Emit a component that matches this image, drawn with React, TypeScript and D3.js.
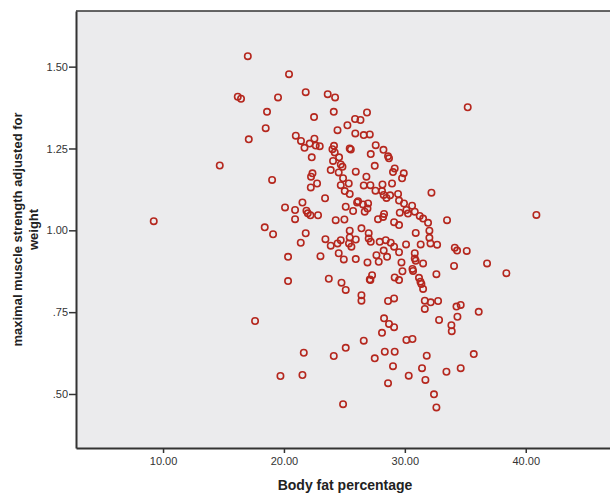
import { useEffect, useRef } from 'react';
import * as d3 from 'd3';

// body fat percentage (x) and maximal muscle strength adjusted for weight (y)
const bodyFat = [
  9.23, 14.69, 17.01, 16.18, 16.45, 20.42, 19.51, 21.80, 23.62, 24.23,
  24.12, 18.60, 22.49, 18.49, 17.09, 24.43, 25.25, 20.98, 21.41, 21.70,
  22.13, 22.52, 22.63, 22.96, 22.30, 19.02, 22.36, 22.24, 22.74, 22.22,
  23.40, 21.53, 20.09, 20.92, 21.86, 21.97, 22.19, 22.82, 20.92, 24.28,
  25.00, 18.41, 25.11, 25.72, 26.87, 25.88, 26.33, 25.90, 26.60, 27.10,
  27.59, 28.23, 27.18, 28.61, 28.69, 27.51, 29.16, 29.02, 29.91, 29.77,
  25.94, 26.82, 26.60, 27.15, 27.57, 28.15, 28.94, 32.20, 28.11, 28.25,
  28.48, 28.78, 29.44, 29.52, 29.93, 30.60, 30.13, 30.82, 26.13, 26.54,
  26.96, 26.91, 26.68, 28.28, 29.58, 24.14, 24.01, 24.20, 25.44, 25.53,
  24.06, 24.56, 24.70, 24.84, 23.87, 24.53, 24.89, 25.36, 24.70, 25.03,
  25.44, 26.05, 19.10, 21.80, 21.39, 23.43, 23.87, 24.43, 24.70, 25.44,
  25.44, 25.38, 25.58, 25.94, 20.34, 23.02, 24.53, 24.95, 25.94, 20.34,
  23.71, 24.76, 25.11, 27.78, 28.20, 30.26, 31.23, 31.51, 31.92, 29.11,
  29.52, 33.49, 40.88, 26.41, 27.01, 27.01, 27.18, 27.92, 28.42, 28.83,
  29.11, 30.90, 32.03, 32.03, 32.12, 32.67, 31.31, 30.10, 26.91, 27.65,
  27.84, 28.25, 28.53, 29.52, 30.82, 30.82, 30.90, 31.51, 29.72, 34.13,
  34.32, 35.12, 34.07, 36.80, 38.40, 32.61, 29.80, 29.16, 29.52, 30.63,
  30.68, 27.29, 27.10, 27.15, 31.17, 31.29, 31.37, 31.51, 26.41, 26.41,
  28.61, 29.11, 31.65, 31.65, 32.14, 32.75, 34.27, 34.62, 36.11, 34.35,
  32.83, 33.85, 28.28, 28.69, 29.11, 28.11, 17.61, 21.64, 24.12, 25.11,
  26.60, 27.51, 28.34, 29.16, 30.13, 30.63, 31.81, 29.02, 19.71, 21.53,
  30.32, 31.42, 31.70, 28.61, 32.41, 32.61, 24.89, 33.44, 33.88, 35.70,
  34.62, 35.20,
];

const strength = [
  1.028, 1.198, 1.532, 1.408, 1.402, 1.477, 1.406, 1.422, 1.416, 1.406,
  1.362, 1.362, 1.346, 1.312, 1.278, 1.306, 1.321, 1.289, 1.273, 1.252,
  1.265, 1.280, 1.259, 1.257, 1.223, 1.154, 1.174, 1.164, 1.143, 1.131,
  1.098, 1.085, 1.070, 1.062, 1.060, 1.052, 1.046, 1.046, 1.034, 1.031,
  1.033, 1.009, 1.072, 1.059, 1.360, 1.340, 1.337, 1.296, 1.291, 1.293,
  1.260, 1.246, 1.233, 1.226, 1.220, 1.197, 1.189, 1.178, 1.174, 1.159,
  1.179, 1.164, 1.137, 1.138, 1.121, 1.140, 1.143, 1.115, 1.120, 1.108,
  1.099, 1.107, 1.111, 1.091, 1.082, 1.075, 1.062, 1.057, 1.089, 1.079,
  1.082, 1.067, 1.057, 1.050, 1.054, 1.258, 1.248, 1.238, 1.250, 1.247,
  1.212, 1.223, 1.201, 1.194, 1.184, 1.177, 1.159, 1.143, 1.138, 1.120,
  1.111, 1.085, 0.988, 0.991, 0.962, 0.973, 0.953, 0.960, 0.970, 0.999,
  0.978, 0.960, 0.950, 0.972, 0.919, 0.921, 0.930, 0.911, 0.912, 0.845,
  0.852, 0.840, 0.818, 1.034, 1.041, 1.051, 1.044, 1.036, 1.023, 1.025,
  1.016, 1.031, 1.047, 1.006, 0.991, 0.975, 0.965, 0.965, 0.970, 0.962,
  0.950, 0.992, 0.999, 0.977, 0.960, 0.956, 0.957, 0.957, 0.902, 0.924,
  0.904, 0.938, 0.919, 0.933, 0.930, 0.914, 0.907, 0.899, 0.902, 0.947,
  0.938, 0.937, 0.891, 0.899, 0.869, 0.866, 0.875, 0.856, 0.848, 0.882,
  0.876, 0.863, 0.850, 0.848, 0.855, 0.843, 0.836, 0.821, 0.802, 0.785,
  0.784, 0.792, 0.785, 0.760, 0.780, 0.784, 0.767, 0.772, 0.751, 0.736,
  0.726, 0.710, 0.731, 0.714, 0.704, 0.687, 0.723, 0.626, 0.616, 0.641,
  0.663, 0.609, 0.629, 0.629, 0.665, 0.668, 0.617, 0.585, 0.555, 0.558,
  0.556, 0.579, 0.543, 0.533, 0.499, 0.459, 0.469, 0.568, 0.692, 0.622,
  0.579, 1.376,
];

const xTicks = [10, 20, 30, 40];
const yTicks = [0.5, 0.75, 1.0, 1.25, 1.5];

const xTitle = 'Body fat percentage';
const yTitleLines = ['maximal muscle strength adjusted for', 'weight'];

const App = () => {
  const graphRef = useRef<SVGSVGElement | null>(null);

  useEffect(() => {
    const width = 610;
    const height = 497;
    const margin = { top: 11, right: -4, bottom: 49, left: 76 };
    const innerW = width - margin.left - margin.right;
    const innerH = height - margin.top - margin.bottom;
    const font = `'Liberation Sans', Arial, sans-serif`;

    const svg = d3.select(graphRef.current);
    svg.selectAll('*').remove();

    const x = d3.scaleLinear().domain([2.8, 47.3]).range([0, innerW]);
    const y = d3.scaleLinear().domain([0.335, 1.67]).range([innerH, 0]);

    const g = svg.append('g').attr('transform', `translate(${margin.left},${margin.top})`);

    g.append('rect')
      .attr('width', innerW)
      .attr('height', innerH)
      .attr('fill', '#EBEBED');

    const pts = bodyFat.map((v, i) => ({ fat: v, str: strength[i] }));

    g.selectAll('.pt')
      .data(pts)
      .enter()
      .append('circle')
      .attr('class', 'pt')
      .attr('cx', d => x(d.fat))
      .attr('cy', d => y(d.str))
      .attr('r', 3.2)
      .attr('fill', 'none')
      .attr('stroke', '#B5271E')
      .attr('stroke-width', 1.6);

    // frame
    g.append('line').attr('x1', 0).attr('x2', innerW).attr('y1', 0).attr('y2', 0)
      .attr('stroke', '#333').attr('stroke-width', 1.5);

    const fmtY = (d: number) => d3.format('.2f')(d).replace(/^0/, '');

    const yAxis = g.append('g')
      .call(d3.axisLeft(y).tickValues(yTicks).tickFormat(d => fmtY(d as number)).tickSize(7).tickSizeOuter(0).tickPadding(1));
    yAxis.select('.domain').attr('stroke', '#333').attr('stroke-width', 2);
    yAxis.selectAll('.tick line').attr('stroke', '#333').attr('stroke-width', 1.5);
    yAxis.selectAll('text')
      .attr('font-size', '11px')
      .attr('font-family', font)
      .attr('fill', '#333');

    const xAxis = g.append('g')
      .attr('transform', `translate(0,${innerH})`)
      .call(d3.axisBottom(x).tickValues(xTicks).tickFormat(d => d3.format('.2f')(d as number)).tickSize(5).tickSizeOuter(0).tickPadding(4));
    xAxis.select('.domain').attr('stroke', '#333').attr('stroke-width', 2);
    xAxis.selectAll('.tick line').attr('stroke', '#333').attr('stroke-width', 1.5);
    xAxis.selectAll('text')
      .attr('font-size', '11px')
      .attr('font-family', font)
      .attr('fill', '#333');

    svg.append('text')
      .attr('x', margin.left + innerW / 2)
      .attr('y', 490)
      .attr('text-anchor', 'middle')
      .attr('font-size', '14px')
      .attr('font-weight', 'bold')
      .attr('font-family', font)
      .attr('fill', '#222')
      .text(xTitle);

    const cy = margin.top + innerH / 2;
    yTitleLines.forEach((line, i) => {
      svg.append('text')
        .attr('transform', `translate(${22 + i * 16},${cy}) rotate(-90)`)
        .attr('text-anchor', 'middle')
        .attr('font-size', '13px')
        .attr('font-weight', 'bold')
        .attr('font-family', font)
        .attr('fill', '#222')
        .text(line);
    });

    return () => {
      svg.selectAll('*').remove();
    };
  }, []);

  return (
    <svg
      ref={graphRef}
      width={610}
      height={497}
      style={{ position: 'absolute', left: 0, top: 0, background: '#fff' }}
    />
  );
};

export default App;
